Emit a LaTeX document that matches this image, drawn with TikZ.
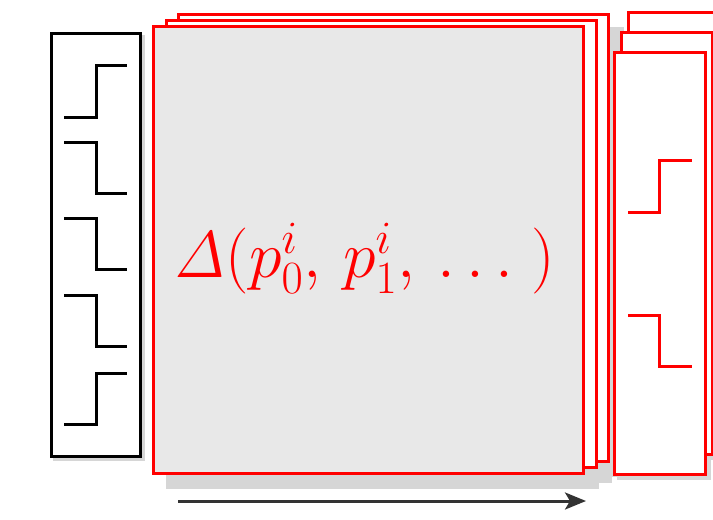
\RequirePackage{fix-cm}
\documentclass[tikz,border=0pt]{standalone}
\usepackage{tikz}
\usetikzlibrary{positioning,calc,arrows.meta}
\pgfdeclarelayer{background}
\pgfsetlayers{background,main}
\definecolor{panelgray}{HTML}{E8E8E8}
\definecolor{shadowgray}{HTML}{D6D6D6}
\definecolor{arrowgray}{HTML}{333333}

\begin{document}
\begin{tikzpicture}[
    x=1pt, y=-1pt,
    sigbox/.style={rectangle, draw=black, line width=3pt, fill=white, minimum width=89pt, minimum height=423pt, inner sep=0pt},
    layerbox/.style={rectangle, draw=red, line width=3pt, fill=white, minimum width=430pt, minimum height=447pt, inner sep=0pt},
    outbox/.style={rectangle, draw=red, line width=3pt, fill=white, minimum width=91pt, minimum height=422pt, inner sep=0pt},
    stepline/.style={line width=3pt, line cap=butt, line join=miter},
    arrow/.style={-{Stealth[length=21pt, width=17pt, inset=5pt]}, line width=3pt, draw=arrowgray},
]
\useasboundingbox (0,0) rectangle (713,520);

% Input signals
\node[sigbox] (input) at (95.5,244.5) {};
\foreach \hi/\lo in {65/117, 373/424}
  \draw[stepline] (64,\lo) -- (96,\lo) -- (96,\hi) -- (127,\hi);
\foreach \hi/\lo in {142/193, 218/269, 295/346}
  \draw[stepline] (64,\hi) -- (96,\hi) -- (96,\lo) -- (127,\lo);

% Stack of layers
\node[layerbox] (layerC) at (393.5,237.5) {};
\node[layerbox] (layerB) at (381,244) {};
\node[layerbox, fill=panelgray] (layerA) at (368,250) {};
\node[text=red, font=\fontsize{66}{68}\selectfont, anchor=base] (delta) at (364,277)
  {$\mathit{\Delta}(p^i_0,\, p^i_1,\, \ldots\;)$};

% Output signals
\node[outbox] (outC) at (673.5,223) {};
\node[outbox] (outB) at (666.5,243) {};
\node[outbox] (outA) at (659.5,263) {};
\draw[stepline, red] (628,212) -- (659,212) -- (659,160) -- (692,160);
\draw[stepline, red] (628,315) -- (659,315) -- (659,366) -- (692,366);

% Shadows behind everything
\begin{pgfonlayer}{background}
  \fill[shadowgray] ($(input.north west)+(3,3)$) rectangle ($(input.south east)+(3,3)$);
  \foreach \n in {layerA,layerB,layerC}
    \fill[shadowgray] ($(\n.north west)+(14,14)$) rectangle ($(\n.south east)+(14,14)$);
  \foreach \n in {outA,outB,outC}
    \fill[shadowgray] ($(\n.north west)+(4,4)$) rectangle ($(\n.south east)+(4,4)$);
\end{pgfonlayer}

% Direction
\coordinate (flowstart) at (178,501);
\coordinate (flowend) at (586,501);
\draw[arrow] (flowstart) -- (flowend);

\end{tikzpicture}
\end{document}
